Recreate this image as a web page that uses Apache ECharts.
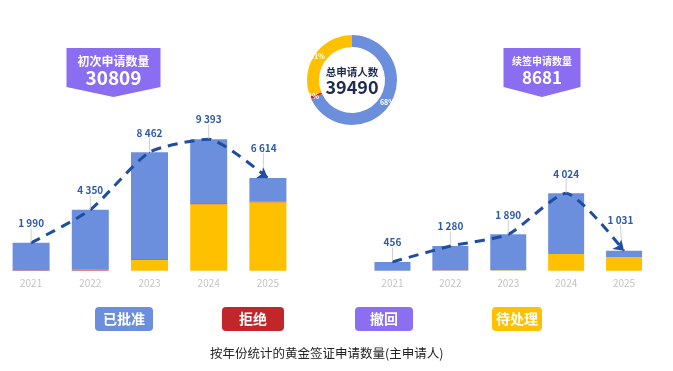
<!DOCTYPE html>
<html>
<head>
<meta charset="utf-8">
<script src="https://cdn.jsdelivr.net/npm/echarts@6/dist/echarts.min.js"></script>
<style>
    html, body { margin: 0; padding: 0; background: #fff; }
    #chart { width: 673px; height: 371px; }
</style>
</head>
<body>
<div id="chart"></div>
<script>
    // 数据
    var years = ['2021', '2022', '2023', '2024', '2025'];
    var statusNames = ['已批准', '拒绝', '撤回', '待处理'];
    var statusColors = ['#6b8fdc', '#c0262a', '#8c6ff0', '#ffc000'];

    // 初次申请
    var firstTotal = [1990, 4350, 8462, 9393, 6614];
    var firstApproved = [1960, 4290, 7637, 4578, 1684];
    var firstRejected = [25, 40, 60, 70, 40];
    var firstWithdrawn = [0, 0, 0, 0, 0];
    var firstPending = [5, 20, 765, 4745, 4890];

    // 续签申请
    var renewTotal = [456, 1280, 1890, 4024, 1031];
    var renewApproved = [456, 1260, 1865, 3151, 331];
    var renewRejected = [0, 15, 5, 5, 3];
    var renewWithdrawn = [0, 0, 0, 0, 0];
    var renewPending = [0, 5, 20, 868, 697];

    // 总申请人数 占比(%)
    var sharePct = [68, 1, 0, 31];

    var firstCount = '30809';
    var renewCount = '8681';
    var totalCount = '39490';
    var firstLabel = '初次申请数量';
    var renewLabel = '续签申请数量';
    var totalLabel = '总申请人数';
    var chartTitle = '按年份统计的黄金签证申请数量(主申请人)';

    var FONT = '"Noto Sans CJK SC", "Noto Sans", sans-serif';

    function fmt(v) {
        return String(v).replace(/\B(?=(\d{3})+(?!\d))/g, ' ');
    }

    function barSeries(name, data, idx, color) {
        return {
            name: name,
            type: 'bar',
            stack: 'g' + idx,
            xAxisIndex: idx,
            yAxisIndex: idx,
            barWidth: idx === 0 ? 37 : 36,
            itemStyle: { color: color },
            data: data
        };
    }

    function trendSeries(data, idx, arrowRotate) {
        var pts = data.map(function (v, i) {
            if (i === data.length - 1) {
                return { value: v, symbol: 'arrow', symbolSize: [10, 10], symbolRotate: arrowRotate,
                    itemStyle: { color: '#1f4ea1' } };
            }
            return v;
        });
        return {
            name: 'trend' + idx,
            type: 'line',
            xAxisIndex: idx,
            yAxisIndex: idx,
            smooth: 0.2,
            symbol: 'circle',
            symbolSize: 1,
            z: 5,
            itemStyle: { color: '#1f4ea1' },
            lineStyle: { color: '#1f4ea1', width: 3, type: [10, 7] },
            label: {
                show: true,
                position: 'top',
                distance: 2,
                color: '#2d5aa8',
                fontSize: 10,
                fontWeight: 'bold',
                fontFamily: FONT,
                formatter: function (p) { return fmt(p.value); }
            },
            labelLayout: { dy: -12 },
            labelLine: { show: true, lineStyle: { color: '#cfcfcf', width: 1 } },
            data: pts
        };
    }

    function badge(x, w, title, num, titleSize, numSize) {
        var cx = x + w / 2;
        return [{
            type: 'polygon',
            shape: { points: [[x, 48], [x + w, 48], [x + w, 87], [cx, 97], [x, 87]] },
            style: { fill: '#8b6df1' }
        }, {
            type: 'text',
            x: cx, y: 61,
            style: { text: title, fill: '#fff', font: 'bold ' + titleSize + 'px ' + FONT, align: 'center', verticalAlign: 'middle' }
        }, {
            type: 'text',
            x: cx, y: 78,
            style: { text: num, fill: '#fff', font: 'bold ' + numSize + 'px ' + FONT, align: 'center', verticalAlign: 'middle' }
        }];
    }

    var legendPad = [[5, 8], [5, 17], [5, 15], [5, 4]];
    var legendLeft = [95, 222, 355, 492];

    var axisCommon = {
        type: 'category',
        data: years,
        axisLine: { show: false },
        axisTick: { show: false },
        axisLabel: { color: '#c4c4c4', fontSize: 10, margin: 8, fontFamily: FONT }
    };
    var yCommon = {
        type: 'value',
        show: false,
        splitLine: { show: false }
    };

    var myChart = echarts.init(document.getElementById('chart'));

    var option = {
        animation: false,
        textStyle: { fontFamily: FONT },
        title: {
            text: chartTitle,
            left: 210,
            top: 347,
            padding: 0,
            textStyle: { fontSize: 12.5, fontWeight: 'normal', color: '#222', fontFamily: FONT }
        },
        legend: statusNames.map(function (n, i) {
            return {
                left: legendLeft[i] - 5,
                top: 307,
                padding: 0,
                icon: 'none',
                itemWidth: 0,
                itemHeight: 0,
                selectedMode: false,
                data: [{
                    name: n,
                    textStyle: {
                        color: '#fff',
                        fontSize: 14,
                        fontWeight: 'bold',
                        fontFamily: FONT,
                        lineHeight: 14,
                        backgroundColor: statusColors[i],
                        borderRadius: 4,
                        padding: legendPad[i]
                    }
                }]
            };
        }),
        grid: [
            { left: 1.5, width: 296, top: 130.7, bottom: 100.3 },
            { left: 363.5, width: 289.5, top: 174.5, bottom: 100.3 }
        ],
        xAxis: [
            Object.assign({ gridIndex: 0 }, axisCommon),
            Object.assign({ gridIndex: 1 }, axisCommon)
        ],
        yAxis: [
            Object.assign({ gridIndex: 0, min: 0, max: 10000 }, yCommon),
            Object.assign({ gridIndex: 1, min: 0, max: 5000 }, yCommon)
        ],
        series: [
            barSeries('待处理', firstPending, 0, statusColors[3]),
            barSeries('拒绝', firstRejected, 0, statusColors[1]),
            barSeries('撤回', firstWithdrawn, 0, statusColors[2]),
            barSeries('已批准', firstApproved, 0, statusColors[0]),
            barSeries('待处理', renewPending, 1, statusColors[3]),
            barSeries('拒绝', renewRejected, 1, statusColors[1]),
            barSeries('撤回', renewWithdrawn, 1, statusColors[2]),
            barSeries('已批准', renewApproved, 1, statusColors[0]),
            trendSeries(firstTotal, 0, -123),
            trendSeries(renewTotal, 1, -133),
            {
                name: 'share',
                type: 'pie',
                center: [352, 80],
                radius: [33, 45],
                startAngle: 90,
                silent: true,
                label: {
                    show: true,
                    position: 'inside',
                    color: '#fff',
                    fontSize: 7,
                    fontWeight: 'bold',
                    formatter: '{c}%'
                },
                labelLine: { show: false },
                data: sharePct.map(function (v, i) {
                    var d = { name: statusNames[i], value: v, itemStyle: { color: statusColors[i] } };
                    if (v === 0) d.label = { show: false };
                    return d;
                })
            }
        ],
        graphic: badge(66.5, 94, firstLabel, firstCount, 12, 19)
            .concat(badge(503.5, 77, renewLabel, renewCount, 10, 17))
            .concat([{
                type: 'text',
                x: 352, y: 72,
                style: { text: totalLabel, fill: '#1c2b4f', font: 'bold 10.5px ' + FONT, align: 'center', verticalAlign: 'middle' }
            }, {
                type: 'text',
                x: 352, y: 87,
                style: { text: totalCount, fill: '#1c2b4f', font: 'bold 18px ' + FONT, align: 'center', verticalAlign: 'middle' }
            }])
    };

    myChart.setOption(option, true);
</script>
</body>
</html>
